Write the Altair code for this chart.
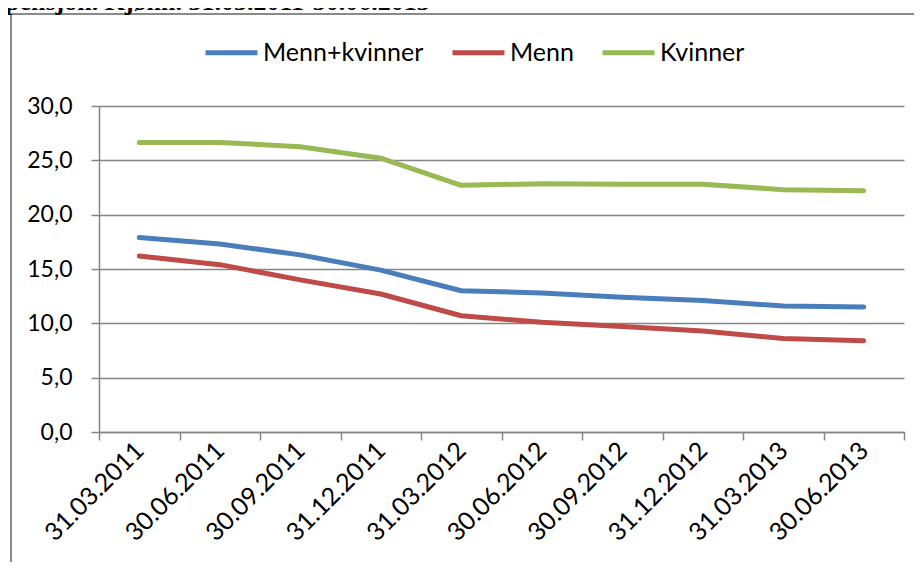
import json
import altair as alt
import pandas as pd

title_text = "pensjon. Kjønn. 31.03.2011-30.06.2013"
dates = ["31.03.2011", "30.06.2011", "30.09.2011", "31.12.2011", "31.03.2012",
         "30.06.2012", "30.09.2012", "31.12.2012", "31.03.2013", "30.06.2013"]
series = ["Menn+kvinner", "Menn", "Kvinner"]
colors = ["#4A7EBB", "#BE4B48", "#98B954"]
menn_kvinner = [17.9, 17.3, 16.3, 14.9, 13.0, 12.8, 12.4, 12.1, 11.6, 11.5]
menn = [16.2, 15.4, 14.0, 12.7, 10.7, 10.1, 9.7, 9.3, 8.6, 8.4]
kvinner = [26.65, 26.65, 26.25, 25.2, 22.7, 22.85, 22.8, 22.8, 22.3, 22.2]
y_ticks = [0, 5, 10, 15, 20, 25, 30]

rows = []
for name, vals in zip(series, [menn_kvinner, menn, kvinner]):
    for i, (d, v) in enumerate(zip(dates, vals)):
        rows.append({"idx": i, "dato": d, "serie": name, "verdi": v})
df = pd.DataFrame(rows)

W, H = 805, 326
GRID = "#868686"
FONT = "Lato"

x_values = [i - 0.5 for i in range(len(dates) + 1)] + list(range(len(dates)))
label_expr = f"datum.value % 1 === 0 ? {json.dumps(dates)}[datum.value] : ''"

lines = alt.Chart(df).mark_line(strokeWidth=5, strokeCap="round", strokeJoin="round").encode(
    x=alt.X("idx:Q",
            scale=alt.Scale(domain=[-0.5, len(dates) - 0.5], nice=False, zero=False),
            axis=alt.Axis(values=x_values, labelExpr=label_expr, title=None, grid=False,
                          labelAngle=-45, labelAlign="right", labelBaseline="middle",
                          labelFont=FONT, labelFontSize=25, labelColor="black",
                          labelOverlap=False, labelFlush=False, labelBound=False,
                          labelPadding=6, tickSize=8, tickColor=GRID, tickWidth=1.5,
                          tickOpacity={"condition": {"test": "datum.value % 1 !== 0", "value": 1}, "value": 0},
                          domainColor=GRID, domainWidth=1.5)),
    y=alt.Y("verdi:Q",
            scale=alt.Scale(domain=[0, 30], nice=False),
            axis=alt.Axis(values=y_ticks, title=None,
                          labelExpr="replace(format(datum.value, '.1f'), '.', ',')",
                          labelFont=FONT, labelFontSize=23, labelColor="black",
                          labelPadding=19, tickSize=8, tickColor=GRID, tickWidth=1.5,
                          grid=True, gridColor=GRID, gridWidth=1.5,
                          domainColor=GRID, domainWidth=1.5)),
    color=alt.Color("serie:N",
                    scale=alt.Scale(domain=series, range=colors),
                    sort=series,
                    legend=alt.Legend(orient="none", legendX=104, legendY=-82,
                                      direction="horizontal", title=None,
                                      symbolType="stroke", symbolStrokeWidth=5,
                                      symbolSize=2700, labelFont=FONT, labelFontSize=25,
                                      labelLimit=400,
                                      labelColor="black", labelOffset=3, columnPadding=18)),
    detail="serie:N",
)

one = pd.DataFrame({"t": [title_text]})
frame_left = alt.Chart(one).mark_rule(color="#8a8a8a", strokeWidth=2).encode(
    x=alt.value(-88), y=alt.value(-92), y2=alt.value(H + 200))
frame_top = alt.Chart(one).mark_rule(color="#8a8a8a", strokeWidth=2).encode(
    x=alt.value(-88), x2=alt.value(W + 100), y=alt.value(-92))
title = alt.Chart(one).mark_text(font="Liberation Serif", fontWeight="bold", fontSize=26,
                                 align="left", baseline="alphabetic", color="black").encode(
    x=alt.value(-94), y=alt.value(-96), text="t:N")

chart = alt.layer(frame_left, frame_top, title, lines).properties(
    width=W, height=H,
    autosize=alt.AutoSizeParams(type="none"),
    padding={"left": 91, "top": 98, "right": 10, "bottom": 130},
    background="white",
).configure_view(stroke=None)

chart.save("out.html", embed_options={"renderer": "svg", "actions": False})
